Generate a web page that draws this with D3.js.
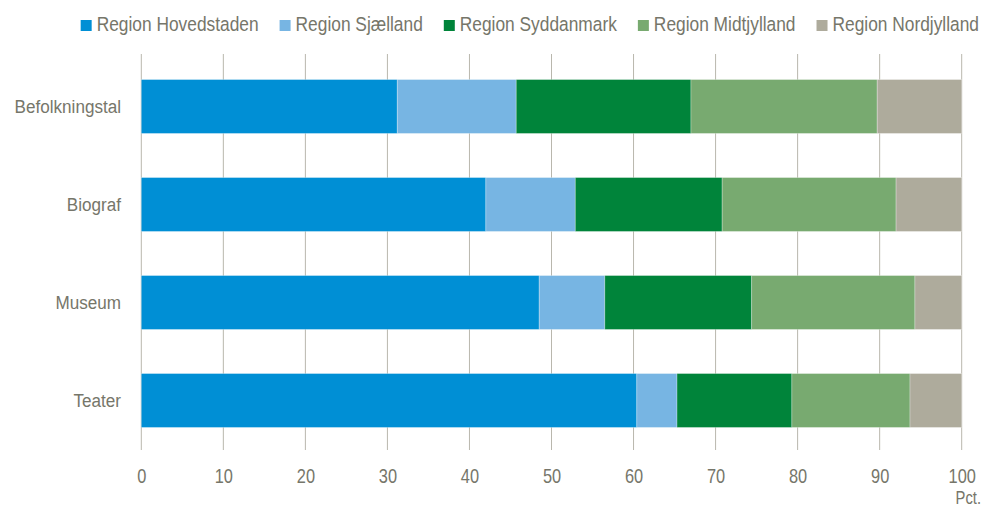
<!DOCTYPE html>
<html>
<head>
<meta charset="utf-8">
<script src="https://cdn.jsdelivr.net/npm/d3@7"></script>
<style>
  html, body { margin: 0; padding: 0; background: #fff; }
  svg { display: block; }
  text { font-family: "Liberation Sans", Arial, sans-serif; fill: #76766a; }
</style>
</head>
<body>
<svg id="chart" width="982" height="506"></svg>
<script>
const categories = ["Befolkningstal", "Biograf", "Museum", "Teater"];
const seriesNames = ["Region Hovedstaden", "Region Sjælland", "Region Syddanmark", "Region Midtjylland", "Region Nordjylland"];
const hovedstaden = [31.2, 42.0, 48.5, 60.4];
const sjaelland   = [14.5, 10.9,  8.0,  4.9];
const syddanmark  = [21.3, 17.9, 17.9, 14.0];
const midtjylland = [22.7, 21.2, 19.9, 14.4];
const nordjylland = [10.3,  8.0,  5.7,  6.3];
const xTicks = [0, 10, 20, 30, 40, 50, 60, 70, 80, 90, 100];
const colors = ["#008fd5", "#77b5e3", "#00843a", "#78aa70", "#aeab9c"];

const seriesValues = [hovedstaden, sjaelland, syddanmark, midtjylland, nordjylland];
const rows = categories.map((c, i) => {
  const r = { category: c };
  seriesNames.forEach((s, j) => r[s] = seriesValues[j][i]);
  return r;
});

const svg = d3.select("#chart");
const x = d3.scaleLinear().domain([0, 100]).range([141.3, 961.7]);
const y = d3.scaleBand().domain(categories).range([57.5, 449.5]).paddingInner(0.45).paddingOuter(0.225);

// gridlines
svg.append("g").selectAll("line").data(xTicks).join("line")
  .attr("x1", d => x(d)).attr("x2", d => x(d))
  .attr("y1", 54).attr("y2", 450)
  .attr("stroke", "#b9b7ad").attr("stroke-width", 1);

// stacked bars
const stack = d3.stack().keys(seriesNames)(rows);
svg.append("g").selectAll("g").data(stack).join("g")
  .attr("fill", (d, i) => colors[i])
  .selectAll("rect").data(d => d).join("rect")
  .attr("x", d => x(d[0]))
  .attr("width", d => x(d[1]) - x(d[0]))
  .attr("y", d => y(d.data.category))
  .attr("height", y.bandwidth())
  .attr("stroke", "rgba(255,255,255,0.35)").attr("stroke-width", 0.8);

// x axis labels
const xAxis = d3.axisBottom(x).tickValues(xTicks).tickSize(0).tickPadding(0);
const gx = svg.append("g").attr("transform", "translate(0,483)").call(xAxis);
gx.select(".domain").remove();
gx.selectAll("text").attr("dy", 0).attr("y", 0).attr("x", 0)
  .attr("transform", "scale(0.82,1)")
  .style("font-size", "20px").style("fill", "#76766a")
  .style("font-family", "'Liberation Sans', Arial, sans-serif");

svg.append("text").attr("text-anchor", "end")
  .attr("transform", "translate(981,504) scale(0.82,1)")
  .style("font-size", "18px").text("Pct.");

// y axis labels
const yAxis = d3.axisLeft(y).tickSize(0).tickPadding(0);
const gy = svg.append("g").attr("transform", "translate(121,0)").call(yAxis);
gy.select(".domain").remove();
gy.selectAll("text").attr("dy", "0.34em").attr("x", 0)
  .attr("transform", "scale(0.9,1)")
  .style("font-size", "19px").style("fill", "#76766a")
  .style("font-family", "'Liberation Sans', Arial, sans-serif");

// legend
const legend = svg.append("g");
const items = legend.selectAll("g").data(seriesNames).join("g");
items.append("rect").attr("width", 11).attr("height", 11).attr("y", 20)
  .attr("fill", (d, i) => colors[i]);
items.append("text").attr("transform", "translate(16,31) scale(0.89,1)")
  .style("font-size", "19.5px").text(d => d);
const gap = 21;
const widths = [];
items.each(function() {
  const t = d3.select(this).select("text").node();
  widths.push(16 + t.getComputedTextLength() * 0.89);
});
const total = d3.sum(widths) + gap * (widths.length - 1);
let cx = 979 - total;
items.attr("transform", (d, i) => { const t = `translate(${cx},0)`; cx += widths[i] + gap; return t; });
</script>
</body>
</html>
